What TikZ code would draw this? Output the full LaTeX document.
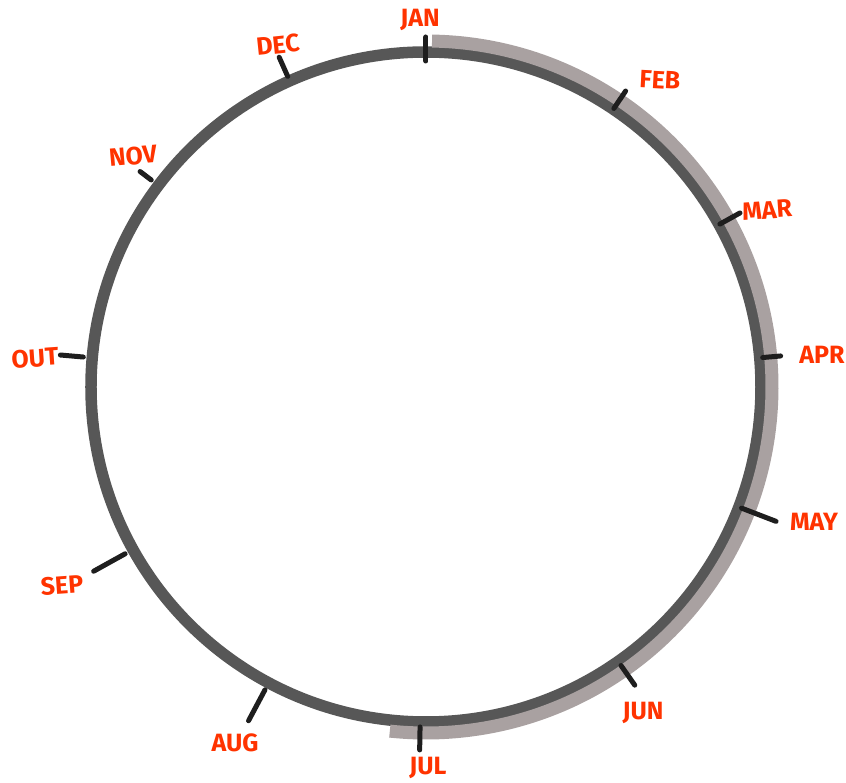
\documentclass[tikz,border=0pt]{standalone}
\usepackage{fontspec}
\setmainfont{Fira Sans}
\definecolor{ringgray}{HTML}{575757}
\definecolor{bandgray}{HTML}{A9A1A1}
\definecolor{tickblack}{HTML}{1E1E1E}
\definecolor{monthred}{HTML}{FF3300}

\begin{document}
\begin{tikzpicture}[x=1pt, y=1pt,
    ring/.style={draw=ringgray, line width=11.5pt},
    band/.style={draw=bandgray, line width=13pt},
    tickmark/.style={draw=tickblack, line width=5pt, line cap=round},
    month/.style={text=monthred, font=\fontsize{25}{25}\selectfont\bfseries, inner sep=0pt}]
    \useasboundingbox (-426,-396) rectangle (420,387);

    % year ring
    \draw[ring] (0,0) circle (335);
    % highlighted first half
    \draw[band] (89:346) arc[start angle=89, end angle=-96, radius=346];

    % month ticks
    \foreach \ang/\rin/\rout in {90/326/350, 56/336/357, 29/336/359,
        5/338/356, -21/338/375, -55/340/364, -91/340/363, -118/343/378,
        -151/344/380, 175/344/367, 143/344/358, 114/340/361}
      \draw[tickmark] (\ang:\rin) -- (\ang:\rout);

    % month labels
    \node[month] (jan) at (-6,367) {JAN};
    \node[month, rotate=-3] (feb) at (234,307) {FEB};
    \node[month, rotate=4] (mar) at (341,177) {MAR};
    \node[month] (apr) at (396,32) {APR};
    \node[month] (may) at (388,-135) {MAY};
    \node[month] (jun) at (217,-326) {JUN};
    \node[month] (jul) at (2,-381) {JUL};
    \node[month] (aug) at (-191,-356) {AUG};
    \node[month, rotate=4] (sep) at (-364,-198) {SEP};
    \node[month, rotate=4] (out) at (-391,29) {OUT};
    \node[month, rotate=5] (nov) at (-293,231) {NOV};
    \node[month, rotate=6] (dec) at (-148,342) {DEC};
\end{tikzpicture}
\end{document}
